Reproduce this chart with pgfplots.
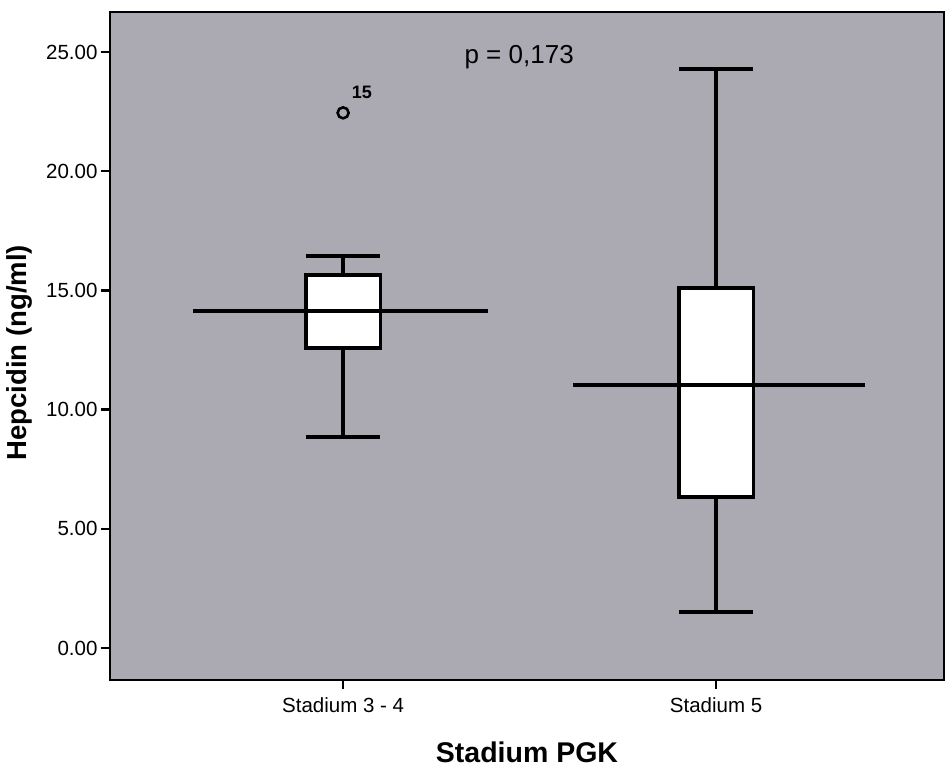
\documentclass[border=0pt]{standalone}
\usepackage{fontspec}
\setmainfont{Liberation Sans}
\usepackage{pgfplots}
\pgfplotsset{compat=1.18}
\usepgfplotslibrary{statistics}
\definecolor{bgcol}{RGB}{171,170,179}
\begin{document}
\begin{tikzpicture}
\begin{axis}[
  name=ax,
  scale only axis, width=834pt, height=668pt,
  xmin=0.375, xmax=2.611, ymin=-1.34, ymax=26.68,
  boxplot/draw direction=y,
  axis background/.style={fill=bgcol},
  axis line style={line width=2.8pt},
  xtick={1,2}, xticklabels={Stadium 3 - 4, Stadium 5},
  ytick={0,5,10,15,20,25},
  tick align=outside, tick pos=left,
  major tick length=9pt,
  every tick/.style={black, line width=2.5pt},
  /pgf/number format/fixed, /pgf/number format/fixed zerofill,
  /pgf/number format/precision=2, /pgf/number format/assume math mode=true,
  ticklabel style={font=\fontsize{20.5}{24}\selectfont},
  xticklabel style={yshift=-5pt},
  xlabel={Stadium PGK},
  xlabel style={font=\fontsize{28.5}{33}\selectfont\bfseries, at={(axis description cs:0.5,-0.108)}, anchor=center},
  ylabel={Hepcidin (ng/ml)},
  ylabel style={font=\fontsize{27.5}{32}\selectfont\bfseries, at={(axis description cs:-0.108,0.49)}, anchor=center},
]
\addplot[boxplot prepared={draw position=1, median=14.14, upper quartile=15.65,
   lower quartile=12.58, upper whisker=16.44, lower whisker=8.85,
   box extend=0.2, whisker extend=0.2},
   draw=black, fill=white, line width=3.5pt, mark=o, mark size=5.5pt,
   mark options={line width=2.6pt, fill=none}]
   coordinates {(1,22.45)};
\addplot[boxplot prepared={draw position=2, median=11.03, upper quartile=15.10,
   lower quartile=6.33, upper whisker=24.29, lower whisker=1.51,
   box extend=0.2, whisker extend=0.2},
   draw=black, fill=white, line width=3.5pt]
   coordinates {};
\addplot[black, line width=3.5pt] coordinates {(0.598,14.14) (1.389,14.14)};
\addplot[black, line width=3.5pt] coordinates {(1.617,11.03) (2.40,11.03)};
\node[font=\fontsize{26}{30}\selectfont] at (axis cs:1.472,24.79) {p = 0,173};
\node[font=\fontsize{18}{21}\selectfont\bfseries] at (axis cs:1.05,23.31) {15};
\end{axis}
\path ([xshift=-110pt,yshift=-92pt]ax.south west) rectangle ([xshift=2pt,yshift=12pt]ax.north east);
\end{tikzpicture}
\end{document}
